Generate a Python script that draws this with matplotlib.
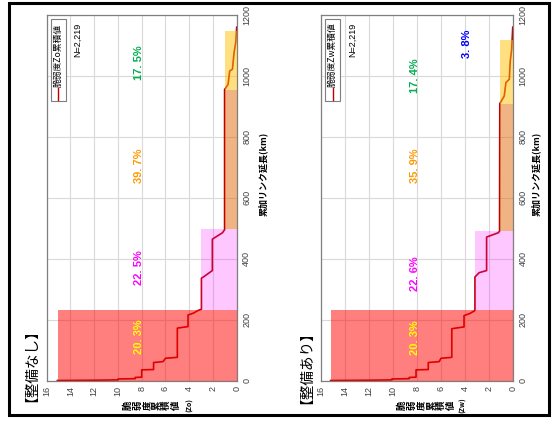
import matplotlib.pyplot as plt
from matplotlib.patches import Rectangle
from matplotlib.lines import Line2D

plt.rcParams['font.family'] = ['Noto Sans CJK JP', 'DejaVu Sans']

# labels
titles = ['【整備なし】', '【整備あり】']
legend_labels = ['脆弱度Zo累積値', '脆弱度Zw累積値']
ylabel_chars = '脆弱度累積値'
ylabel_units = ['(Zo)', '(Zw)']
xlabel = '累加リンク延長(km)'
n_label = 'N=2,219'

v_ticks = [0, 2, 4, 6, 8, 10, 12, 14, 16]
l_ticks = [0, 200, 400, 600, 800, 1000, 1200]

# cumulative curve: link length (km) and vulnerability value
len_before = [0, 1, 2, 5, 6, 10, 11, 35, 36, 59, 62, 73, 76, 172, 177, 215, 221, 230, 234,
              336, 340, 361, 464, 485, 495, 955, 972, 1016, 1022, 1077, 1110, 1160]
val_before = [15.1, 12.0, 10.0, 10.0, 8.55, 8.55, 8.0, 8.0, 7.0, 7.0, 6.2, 6.0, 5.0, 5.0, 4.1, 4.1,
              3.65, 3.25, 2.97, 2.97, 2.8, 2.05, 2.05, 1.2, 1.02, 1.02, 0.73, 0.59, 0.36, 0.22, 0.08, 0.0]
len_after = [0, 1, 2, 5, 6, 10, 11, 35, 36, 59, 62, 73, 76, 170, 176, 213, 220, 229, 233,
             340, 354, 361, 471, 485, 490, 909, 934, 978, 989, 1049, 1087, 1160]
val_after = [15.2, 12.0, 10.1, 10.1, 8.65, 8.65, 8.08, 8.08, 7.06, 7.06, 6.15, 6.0, 5.1, 5.1, 4.08, 4.08,
             3.6, 3.2, 3.17, 3.17, 2.82, 2.2, 2.2, 1.23, 1.12, 1.1, 0.73, 0.59, 0.31, 0.23, 0.11, 0.02]

# coloured bands
band_start_before = [0, 232, 497, 955]
band_end_before = [232, 497, 955, 1146]
band_height_before = [15.05, 3.0, 1.0, 0.95]
band_start_after = [0, 232, 492, 909]
band_end_after = [232, 492, 909, 1117]
band_height_after = [15.2, 3.15, 1.1, 1.1]
band_colors = ['#ff0000', '#ff00ff', '#e26b0a', '#ffc000']
band_alpha = [0.5, 0.22, 0.5, 0.5]

# share labels
share_before = ['20. 3%', '22. 5%', '39. 7%', '17. 5%']
share_len_before = [143, 370, 705, 1044]
share_val_before = [8.2, 8.2, 8.2, 8.2]
share_after = ['20. 3%', '22. 6%', '35. 9%', '17. 4%', '3. 8%']
share_len_after = [140, 350, 705, 1001, 1104]
share_val_after = [8.2, 8.2, 8.2, 8.2, 3.8]
share_colors = ['#ffff00', '#ff00ff', '#ff9900', '#00b050', '#0000ff']

W, H = 552, 423
fig = plt.figure(figsize=(W / 100, H / 100), dpi=100)


def px(x, y):
    return x / W, 1 - y / H


panels = [
    dict(rect=[46.7, 15, 190, 365.5], lens=len_before, vals=val_before,
         bs=band_start_before, be=band_end_before, bh=band_height_before,
         st=share_before, sl=share_len_before, sv=share_val_before,
         title_xy=(24, 358), ylab_x=128, ylab_step=9.5, unit_x=190, xlab_x=1.138),
    dict(rect=[321, 15, 192, 365.5], lens=len_after, vals=val_after,
         bs=band_start_after, be=band_end_after, bh=band_height_after,
         st=share_after, sl=share_len_after, sv=share_val_after,
         title_xy=(299, 360), ylab_x=402, ylab_step=9.8, unit_x=463, xlab_x=1.12),
]

for i, p in enumerate(panels):
    x0, y0, w, h = p['rect']
    ax = fig.add_axes([x0 / W, 1 - (y0 + h) / H, w / W, h / H])
    ax.set_xlim(16, 0)
    ax.set_ylim(0, 1200)
    ax.set_axisbelow(True)
    ax.grid(True, color='#d9d9d9', lw=0.8)

    ax.plot(p['vals'], p['lens'], color='#c00000', lw=1.2, zorder=2)
    for k in range(len(p['bs'])):
        ax.fill_betweenx([p['bs'][k], p['be'][k]], 0, p['bh'][k],
                         color=band_colors[k], alpha=band_alpha[k], lw=0, zorder=3)

    for k in range(len(p['st'])):
        ax.text(p['sv'][k], p['sl'][k], p['st'][k], color=share_colors[k], rotation=90,
                ha='center', va='center', fontsize=8, fontweight='bold',
                family=['Liberation Sans', 'DejaVu Sans'], zorder=5)

    ax.text(0.165, 0.932, n_label, transform=ax.transAxes, rotation=90, ha='center',
            va='center', fontsize=6.5, family=['Liberation Sans', 'DejaVu Sans'])

    # legend drawn by hand (rotated)
    ax.add_patch(Rectangle((0.022, 0.765), 0.078, 0.224, transform=ax.transAxes,
                           facecolor='white', edgecolor='#7f7f7f', lw=0.8, zorder=6))
    ax.add_line(Line2D([0.06, 0.06], [0.768, 0.800], transform=ax.transAxes,
                       color='#c00000', lw=1, zorder=7))
    ax.text(0.06, 0.802, legend_labels[i], transform=ax.transAxes, rotation=90,
            ha='center', va='bottom', fontsize=6.3, zorder=7)

    ax.set_xticks(v_ticks)
    ax.set_xticklabels([str(v) for v in v_ticks], rotation=90, fontsize=6.5, color='#404040',
                       family=['Liberation Sans', 'DejaVu Sans'])
    ax.yaxis.tick_right()
    ax.set_yticks(l_ticks)
    ax.set_yticklabels([str(v) for v in l_ticks], rotation=90, fontsize=6.5, color='#404040',
                       va='center', family=['Liberation Sans', 'DejaVu Sans'])
    ax.tick_params(axis='both', length=0, pad=4)
    for s in ax.spines.values():
        s.set_color('#7f7f7f')
        s.set_linewidth(0.9)

    ax.text(p['xlab_x'], 0.565, xlabel, transform=ax.transAxes, rotation=90,
            ha='center', va='center', fontsize=6.5, fontweight='bold')

    # stacked vertical y-label
    for k, ch in enumerate(ylabel_chars):
        fig.text(*px(p['ylab_x'] + k * p['ylab_step'], 405), ch, rotation=90,
                 ha='center', va='center', fontsize=6.8, fontweight='bold')
    fig.text(*px(p['unit_x'], 405), ylabel_units[i], rotation=90, ha='center',
             va='center', fontsize=5, fontweight='bold')

    fig.text(*px(*p['title_xy']), titles[i], rotation=90, ha='center', va='center',
             fontsize=10.5)

fig.add_artist(Rectangle(px(8.5, 415), (549 - 8.5) / W, (415 - 3.5) / H,
                         transform=fig.transFigure, fill=False, lw=2.2, color='black'))

fig.savefig('out.png', dpi=100)
